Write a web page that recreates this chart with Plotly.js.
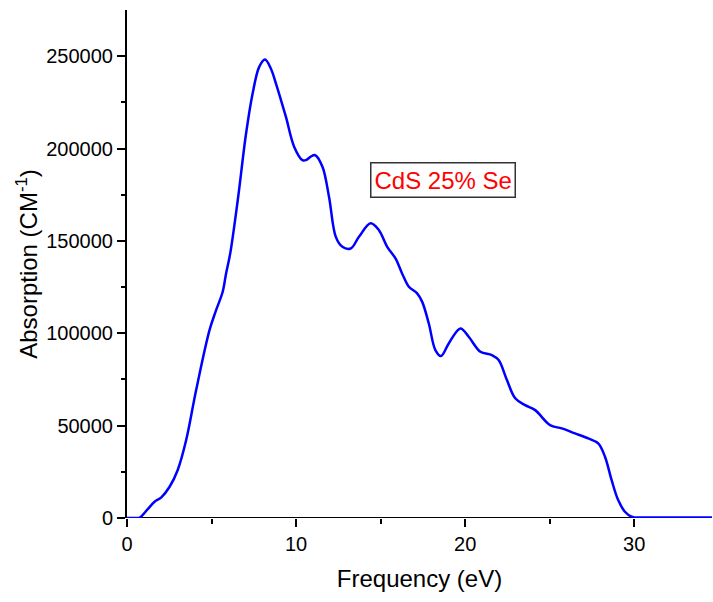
<!DOCTYPE html>
<html>
<head>
<meta charset="utf-8">
<script src="https://cdn.plot.ly/plotly-3.0.1.min.js"></script>
<style>html,body{margin:0;padding:0;background:#fff;}#chart{width:713px;height:602px;}</style>
</head>
<body>
<div id="chart"></div>
<script>
const freq = [0, 0.5, 0.75, 1.2, 1.63, 2.03, 2.52, 3.0, 3.5, 4.09, 4.88, 5.27, 5.66, 5.86, 6.1, 6.55, 7.04, 7.43, 7.82, 8.16, 8.5, 8.81, 9.4, 9.89, 10.38, 10.58, 10.85, 11.13, 11.56, 11.95, 12.35, 12.74, 13.23, 13.72, 14.41, 14.9, 15.39, 15.88, 16.27, 16.67, 17.16, 17.46, 17.85, 18.24, 18.57, 19.03, 19.72, 20.21, 20.9, 21.58, 21.98, 22.47, 22.96, 23.55, 24.14, 25.02, 25.71, 26.5, 27.28, 27.87, 28.27, 28.66, 29.05, 29.45, 29.84, 30.04, 31, 32, 33, 34.6];
const absorption = [0, 0, 200, 4500, 8800, 11200, 16900, 26000, 42200, 69300, 101700, 112500, 122500, 132400, 143000, 172000, 208000, 229800, 244200, 248200, 243500, 235200, 217100, 200900, 193700, 193700, 195500, 196400, 190100, 173800, 152200, 146800, 145900, 152200, 159500, 155800, 146800, 140500, 132400, 125200, 121600, 117000, 105300, 90900, 87700, 94500, 102600, 98100, 90000, 88200, 85500, 74700, 64800, 61100, 58400, 50300, 48500, 45800, 43100, 40400, 33200, 20600, 9700, 3400, 700, 300, 300, 300, 300, 300];
const xTickVals = [0, 10, 20, 30];
const yTickVals = [0, 50000, 100000, 150000, 200000, 250000];
const labelText = "CdS 25% Se";

const font = "Arial, 'Liberation Sans', sans-serif";
const trace = {
  x: freq, y: absorption, type: 'scatter', mode: 'lines',
  line: {color: '#0000ff', width: 2.5, shape: 'spline', smoothing: 1},
  hoverinfo: 'skip'
};
const layout = {
  width: 713, height: 602,
  margin: {l: 127, r: 1, t: 10, b: 84},
  paper_bgcolor: '#fff', plot_bgcolor: '#fff',
  showlegend: false,
  font: {family: font, color: '#000'},
  xaxis: {
    range: [0, 34.6], showgrid: false, zeroline: false, showline: false,
    tickmode: 'array', tickvals: xTickVals, ticks: 'outside', ticklen: 8, tickwidth: 2, tickcolor: '#000',
    tickfont: {size: 20, family: font},
    minor: {tickmode: 'array', tickvals: [5, 15, 25], ticks: 'outside', ticklen: 5, tickwidth: 2, tickcolor: '#000'},
    title: {text: 'Frequency (eV)', font: {size: 24, family: font}, standoff: 16}
  },
  yaxis: {
    range: [0, 275000], showgrid: false, zeroline: false, showline: true, linecolor: '#000', linewidth: 2,
    tickmode: 'array', tickvals: yTickVals, ticktext: yTickVals.map(String),
    ticks: 'outside', ticklen: 8, tickwidth: 2, tickcolor: '#000',
    tickfont: {size: 20, family: font},
    minor: {tickmode: 'array', tickvals: [25000, 75000, 125000, 175000, 225000], ticks: 'outside', ticklen: 4, tickwidth: 2, tickcolor: '#000'},
    title: {text: 'Absorption (CM<sup>-1</sup>)', font: {size: 24, family: font}, standoff: 2}
  },
  shapes: [{type: 'line', xref: 'x', yref: 'y', x0: 0, x1: 32.9, y0: 0, y1: 0, line: {color: '#000', width: 2}, layer: 'below'}],
  annotations: [{
    x: 18.7, y: 182900, xref: 'x', yref: 'y', text: labelText, showarrow: false,
    font: {size: 24, color: '#ff0000', family: font},
    bordercolor: '#333', borderwidth: 1.5, borderpad: 3, bgcolor: '#fff'
  }]
};
Plotly.newPlot('chart', [trace], layout, {staticPlot: true});
</script>
</body>
</html>
